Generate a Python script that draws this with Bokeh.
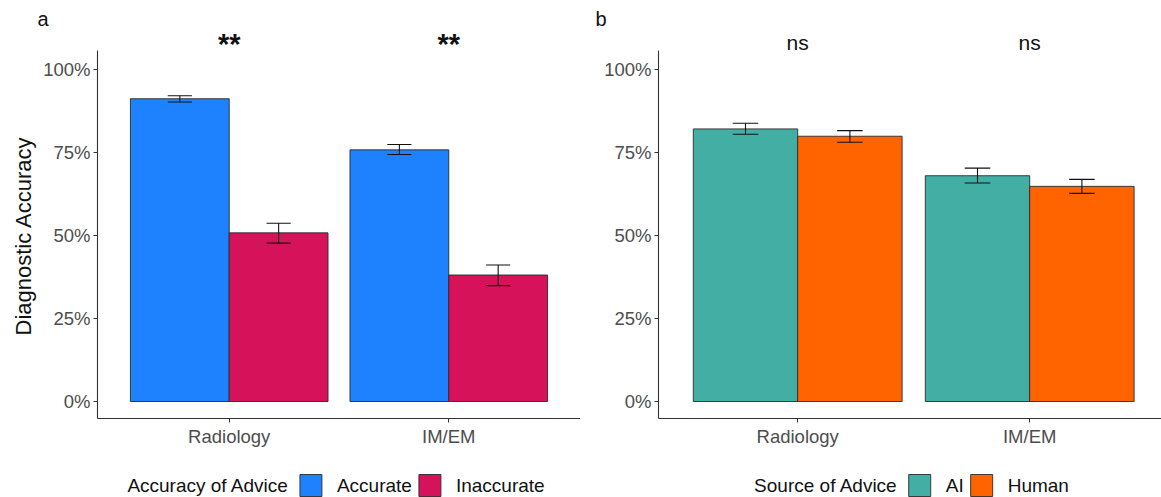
from bokeh.plotting import figure
from bokeh.layouts import row, column
from bokeh.models import Range1d, FixedTicker, Label, Title
from bokeh.embed import file_html
from bokeh.resources import INLINE
from bokeh.core.properties import value

# ---------------- data ----------------
specialties = ["Radiology", "IM/EM"]
x_pos = [1, 2]

# panel a : accuracy of advice
acc_mean = [0.912, 0.758]
acc_lo = [0.902, 0.744]
acc_hi = [0.921, 0.774]
inacc_mean = [0.508, 0.381]
inacc_lo = [0.477, 0.349]
inacc_hi = [0.537, 0.411]
sig_a = ["**", "**"]

# panel b : source of advice
ai_mean = [0.821, 0.680]
ai_lo = [0.805, 0.658]
ai_hi = [0.838, 0.703]
hum_mean = [0.799, 0.648]
hum_lo = [0.781, 0.627]
hum_hi = [0.816, 0.669]
sig_b = ["ns", "ns"]

y_ticks = [0, 0.25, 0.5, 0.75, 1.0]
y_tick_labels = ["0%", "25%", "50%", "75%", "100%"]

FONT = "Liberation Sans"
BAR_W = 0.45
CAP = 0.055
Y0, Y1 = -0.0512, 1.0572      # visible axis extent
Y_TOP = 1.1175                 # frame top (room for significance marks)
MAIN_H = 452
LEG_H = 45
LEG_FS = 19
LEG_Y = 12

# Arial / Liberation Sans advance widths (1/1000 em) used to lay out the legend
ADV = {" ": 278, "A": 667, "c": 500, "u": 556, "r": 333, "a": 556, "y": 500, "o": 556,
       "f": 278, "d": 556, "v": 500, "i": 222, "e": 556, "t": 278, "I": 278, "n": 556,
       "S": 667, "H": 722, "m": 833}


def text_w(s, fs):
    return sum(ADV.get(ch, 556) for ch in s) * fs / 1000.0


def make_panel(width, min_left, x_end, series, sig, sig_style, sig_fs, sig_y,
               letter, letter_offset, ylabel):
    p = figure(width=width, height=MAIN_H, output_backend="svg", toolbar_location=None,
               x_range=Range1d(0.4, x_end), y_range=Range1d(Y0, Y_TOP),
               min_border_left=min_left, min_border_right=0,
               min_border_top=30, min_border_bottom=MAIN_H - 418)
    p.outline_line_color = None
    p.xgrid.grid_line_color = None
    p.ygrid.grid_line_color = None
    p.background_fill_color = "white"
    p.border_fill_color = "white"

    p.title.text = letter
    p.title.text_font = FONT
    p.title.text_font_size = "20px"
    p.title.text_font_style = "normal"
    p.title.text_color = "#111111"
    p.title.align = "left"
    p.title.offset = letter_offset
    p.title.standoff = 2

    for offset, (name, means, lo, hi, color) in zip([-BAR_W / 2, BAR_W / 2], series):
        xs = [x + offset for x in x_pos]
        p.vbar(x=xs, top=means, bottom=0, width=BAR_W, fill_color=color,
               line_color="#2a2a2a", line_width=0.9)
        p.segment(x0=xs, x1=xs, y0=lo, y1=hi, line_color="#111111", line_width=1.1)
        p.segment(x0=[x - CAP for x in xs], x1=[x + CAP for x in xs], y0=lo, y1=lo,
                  line_color="#111111", line_width=1.1)
        p.segment(x0=[x - CAP for x in xs], x1=[x + CAP for x in xs], y0=hi, y1=hi,
                  line_color="#111111", line_width=1.1)

    for ax in (p.xaxis[0], p.yaxis[0]):
        ax.axis_line_color = "#333333"
        ax.axis_line_width = 1.1
        ax.major_tick_line_color = "#333333"
        ax.major_tick_out = 4
        ax.major_tick_in = 0
        ax.minor_tick_line_color = None
        ax.major_label_text_font = FONT
        ax.major_label_text_font_size = "18.5px"
        ax.major_label_text_color = "#4d4d4d"
    p.xaxis.ticker = FixedTicker(ticks=x_pos)
    p.xaxis.major_label_overrides = {x: s for x, s in zip(x_pos, specialties)}
    p.xaxis.major_label_standoff = 3
    p.yaxis.ticker = FixedTicker(ticks=y_ticks)
    p.yaxis.major_label_overrides = {t: s for t, s in zip(y_ticks, y_tick_labels)}
    p.yaxis.major_label_standoff = 3
    p.yaxis.bounds = (Y0, Y1)
    if ylabel:
        t = Title(text=ylabel, align="left", offset=83, vertical_align="top", standoff=6,
                  text_font=FONT, text_font_size="22px", text_font_style="normal",
                  text_color="#111111")
        p.add_layout(t, "left")

    for x, s in zip(x_pos, sig):
        p.add_layout(Label(x=x, y=sig_y, text=s, text_align="center", text_baseline="middle",
                           text_font=FONT, text_font_size=sig_fs, text_font_style=sig_style,
                           text_color="#111111"))
    return p


def make_legend(width, frame_left, frame_center, entries, legend_title):
    q = figure(width=width, height=LEG_H, output_backend="svg", toolbar_location=None,
               x_range=Range1d(0, width), y_range=Range1d(0, LEG_H),
               x_axis_type=None, y_axis_type=None,
               min_border_left=0, min_border_right=0, min_border_top=0, min_border_bottom=0)
    q.outline_line_color = None
    q.xgrid.grid_line_color = None
    q.ygrid.grid_line_color = None
    key = 22
    gap_title, gap_key, gap_item = 11, 15, 7
    total = text_w(legend_title, LEG_FS) + gap_title
    for name, _ in entries:
        total += key + gap_key + text_w(name, LEG_FS) + gap_item
    total -= gap_item
    x = frame_left + frame_center - total / 2
    tx, tt = [x], [legend_title]
    x += text_w(legend_title, LEG_FS) + gap_title
    kx, kc = [], []
    for name, color in entries:
        kx.append(x + key / 2)
        kc.append(color)
        x += key + gap_key
        tx.append(x)
        tt.append(name)
        x += text_w(name, LEG_FS) + gap_item
    q.rect(x=kx, y=[LEG_Y] * len(kx), width=key, height=key, fill_color=kc,
           line_color="#2a2a2a", line_width=0.9)
    q.text(x=tx, y=[LEG_Y] * len(tx), text=tt, text_font=value(FONT),
           text_font_size=f"{LEG_FS}px", text_color="#111111", text_baseline="middle",
           text_align="left")
    return q


series_a = [("Accurate", acc_mean, acc_lo, acc_hi, "#1e82ff"),
            ("Inaccurate", inacc_mean, inacc_lo, inacc_hi, "#d6135a")]
series_b = [("AI", ai_mean, ai_lo, ai_hi, "#43afa4"),
            ("Human", hum_mean, hum_lo, hum_hi, "#ff6400")]

pa = make_panel(580, 97, 2.6, series_a, sig_a, "bold", "29px", 1.076, "a", -60,
                "Diagnostic Accuracy")
pb = make_panel(581, 78, 0.4 + 503 / 232, series_b, sig_b, "normal", "21px", 1.081, "b", -63,
                None)
la = make_legend(580, 97, (580 - 97) / 2 - 3, [(s[0], s[4]) for s in series_a],
                 "Accuracy of Advice")
lb = make_legend(581, 78, 253, [(s[0], s[4]) for s in series_b], "Source of Advice")

layout = column(row(pa, pb), row(la, lb))
open("out.html", "w").write(file_html(layout, INLINE))
